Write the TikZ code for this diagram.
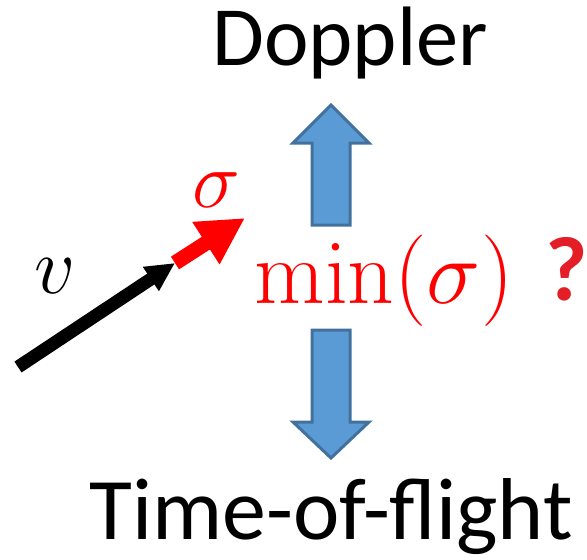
\RequirePackage{fix-cm}
\documentclass[tikz,border=0pt]{standalone}
\usepackage[no-math]{fontspec}
\newfontfamily\calibri{Carlito}
\usetikzlibrary{arrows.meta}
\definecolor{arrowfill}{RGB}{91,155,213}
\definecolor{arrowedge}{RGB}{65,113,156}
\definecolor{qred}{RGB}{228,30,38}
\begin{document}
\begin{tikzpicture}[x=0.02cm,y=-0.02cm,
    lbl/.style={font=\calibri\fontsize{48}{58}\selectfont,inner sep=0pt,anchor=base},
    mth/.style={font=\fontsize{46}{55}\selectfont,inner sep=0pt,anchor=base},
    blockarrow/.style={draw=arrowedge,fill=arrowfill,line width=0.06cm},
    vec/.style={line width=0.26cm,-{Triangle[length=0.58cm,width=0.54cm]}},
    dev/.style={line width=0.3cm,color=red,-{Triangle[length=0.93cm,width=0.94cm]}}
  ]
  \useasboundingbox (0,0) rectangle (587,559);
  % Labels
  \node[lbl] (dop) at (350,65) {Doppler};
  \node[lbl,font=\calibri\fontsize{50}{60}\selectfont] (tof) at (331,539) {Time-of-flight};
  % Up and down arrows
  \draw[blockarrow] (312,225) -- (312,143) -- (293,143) -- (331,105)
    -- (369,143) -- (350,143) -- (350,225) -- cycle;
  \draw[blockarrow] (312,330) -- (312,422) -- (293,422) -- (331,458)
    -- (369,422) -- (350,422) -- (350,330) -- cycle;
  % Velocity and its error
  \coordinate (vtail) at (18,367);
  \coordinate (vtip) at (175,263);
  \coordinate (stip) at (245,218);
  \draw[vec] (vtail) -- (vtip);
  \draw[dev] (vtip) -- (stip);
  \node[mth] (vlab) at (55,293) {$v$};
  \node[mth,text=red] (slab) at (216,207) {$\sigma$};
  % Question
  \node[mth,text=red,font=\fontsize{52}{62}\selectfont] (minlab) at (384,303) {$\min(\sigma)$};
  \node[lbl,text=qred,font=\calibri\bfseries\fontsize{52}{62}\selectfont] (qmark) at (567,300) {?};
\end{tikzpicture}
\end{document}
